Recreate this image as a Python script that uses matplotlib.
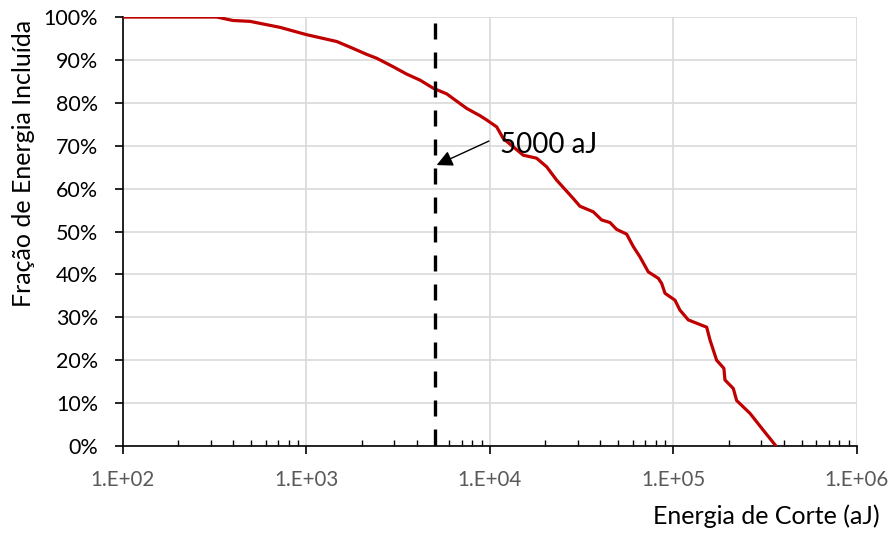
import matplotlib
matplotlib.use("Agg")
import matplotlib.pyplot as plt
from matplotlib.ticker import LogLocator, FixedLocator, FuncFormatter, PercentFormatter

# Cutoff energy (aJ) and cumulative fraction of energy included (%)
energy = [100, 325, 397, 492, 717, 1000, 1462, 1792, 2128, 2414, 2973, 3516,
          4156, 4914, 5808, 7469, 8826, 9600, 10880, 11810, 15180, 17950,
          20360, 23070, 28430, 30920, 36540, 40620, 45080, 49000, 55560,
          60390, 65660, 72880, 82650, 86240, 89950, 101900, 108400, 120400,
          151700, 158200, 171900, 188300, 190800, 211900, 221000, 261400,
          308500, 362000]
fraction = [100.0, 100.0, 99.2, 99.0, 97.6, 95.9, 94.3, 92.7, 91.3, 90.4,
            88.4, 86.7, 85.3, 83.4, 82.1, 78.7, 77.0, 76.0, 74.4, 71.7,
            67.8, 67.1, 65.1, 62.0, 57.7, 55.9, 54.6, 52.7, 52.1, 50.5,
            49.4, 46.5, 44.1, 40.6, 39.1, 37.9, 35.6, 34.0, 31.7, 29.4,
            27.7, 24.7, 20.0, 18.1, 15.4, 13.4, 10.6, 7.6, 3.7, 0.0]

cutoff = 5000
cutoff_label = "5000 aJ"
x_ticks = [1e2, 1e3, 1e4, 1e5, 1e6]
x_tick_labels = ["1.E+02", "1.E+03", "1.E+04", "1.E+05", "1.E+06"]
y_ticks = [0, 10, 20, 30, 40, 50, 60, 70, 80, 90, 100]

plt.rcParams["font.family"] = ["Lato", "DejaVu Sans"]

fig = plt.figure(figsize=(8.95, 5.33), dpi=100)
ax = fig.add_axes([0.1374, 0.1632, 0.8201, 0.8048])

ax.plot(energy, fraction, color="#C00000", lw=2.3, zorder=3,
        solid_joinstyle="round")
# vertical marker at the cutoff energy, dashed from the top down
ax.plot([cutoff, cutoff], [98.6, 0], color="black", lw=2.4,
        dashes=(4.8, 3.9), zorder=4)

# label and arrow pointing at the cutoff marker
ax.text(11340, 70.2, cutoff_label, fontsize=20, va="center", ha="left",
        color="black", zorder=5)
ax.annotate("", xy=(5122, 65.5), xytext=(9877, 71.1),
            arrowprops=dict(arrowstyle="-|>,head_length=0.6,head_width=0.3",
                            color="black", lw=1.0, mutation_scale=16,
                            shrinkA=0, shrinkB=0),
            zorder=5)

ax.set_xscale("log")
ax.set_xlim(1e2, 1e6)
ax.set_ylim(0, 100)

ax.xaxis.set_major_locator(FixedLocator(x_ticks))
ax.xaxis.set_major_formatter(FuncFormatter(
    lambda v, p: x_tick_labels[x_ticks.index(v)] if v in x_ticks else ""))
ax.xaxis.set_minor_locator(LogLocator(base=10, subs=range(2, 10), numticks=20))
ax.xaxis.set_minor_formatter(FuncFormatter(lambda v, p: ""))
ax.set_yticks(y_ticks)
ax.yaxis.set_major_formatter(PercentFormatter(decimals=0))

ax.grid(True, which="major", color="#D9D9D9", lw=1.2)
ax.set_axisbelow(True)
for s in ("top", "right"):
    ax.spines[s].set_visible(False)
for s in ("left", "bottom"):
    ax.spines[s].set_color("black")
    ax.spines[s].set_linewidth(1.2)

ax.tick_params(axis="x", which="major", direction="out", length=6, width=1.2,
               labelsize=14.8, labelcolor="#595959", pad=11)
ax.tick_params(axis="x", which="minor", direction="in", length=4, width=1.0)
ax.tick_params(axis="y", which="major", direction="out", length=6, width=1.2,
               labelsize=15.5, labelcolor="black", pad=12)

fig.text(0.983, 0.017, "Energia de Corte (aJ)", ha="right", va="baseline",
         fontsize=18)
fig.text(0.026, 0.694, "Fração de Energia Incluída", ha="center", va="center",
         rotation=90, fontsize=18)

fig.savefig("out.png", dpi=100)
